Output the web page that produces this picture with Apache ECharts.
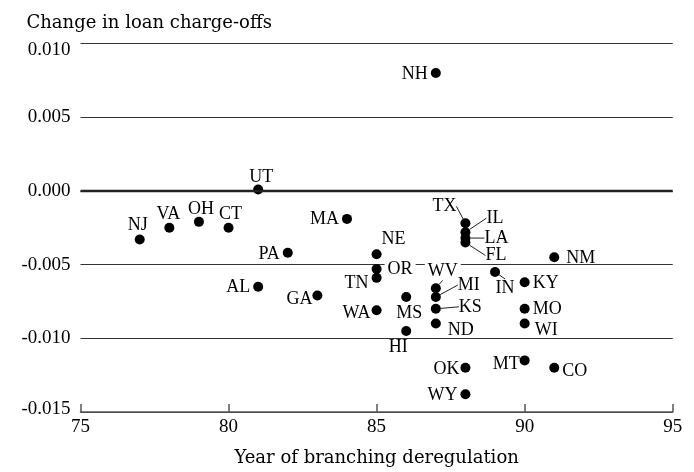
<!DOCTYPE html>
<html><head><meta charset="utf-8">
<script src="https://cdn.jsdelivr.net/npm/echarts@6/dist/echarts.min.js"></script>
<style>html,body{margin:0;padding:0;background:#fff}#c{width:694px;height:472px}</style>
</head><body><div id="c"></div>
<script>
const states = ['NJ','VA','OH','CT','UT','PA','MA','AL','GA','NH','NE','OR','TN','WA','MS','HI','WV','MI','KS','ND','TX','IL','LA','FL','IN','NM','KY','MO','WI','MT','CO','OK','WY'];
const years  = [77,78,79,80,81,82,84,81,83,87,85,85,85,85,86,86,87,87,87,87,88,88,88,88,89,91,90,90,90,90,91,88,88];
const values = [-0.0033,-0.0025,-0.0021,-0.0025,0.0001,-0.0042,-0.0019,-0.0065,-0.0071,0.0080,-0.0043,-0.0053,-0.0059,-0.0081,-0.0072,-0.0095,-0.0066,-0.0072,-0.0080,-0.0090,-0.0022,-0.0028,-0.0032,-0.0035,-0.0055,-0.0045,-0.0062,-0.0080,-0.0090,-0.0115,-0.0120,-0.0120,-0.0138];
const xTicks = [75, 80, 85, 90, 95];
const yTicks = [-0.015, -0.010, -0.005, 0.000, 0.005, 0.010];

// label placement (style only): [position, dx, dy, leaderLine, whiteBackground]
const place = {
  NJ:['top',-2,3,0,0], VA:['top',-1,4,0,0], OH:['top',2,4,0,0], CT:['top',2,4,0,0], UT:['top',3,5,0,0],
  PA:['left',0,1,0,0], MA:['left',0,0,0,0], AL:['left',0,1,0,0], GA:['left',3,4,0,0], NH:['left',0,1,0,0],
  NE:['top',17,2,0,0], OR:['right',0,0,0,1], TN:['left',0,5,0,0], WA:['left',2,3,0,0],
  MS:['bottom',3,-1,0,0], HI:['bottom',-8,-1,0,0],
  WV:['top',7,0,1,1], MI:['right',14,-12,1,0], KS:['right',15,-2,1,0], ND:['right',4,7,0,0],
  TX:['left',-1,-17,1,0], IL:['right',13,-14,1,0], LA:['right',11,0,1,0], FL:['right',12,13,1,0],
  IN:['bottom',10,-1,1,0], NM:['right',4,1,0,0], KY:['right',0,1,0,0], MO:['right',0,0,0,0],
  WI:['right',2,7,0,0], MT:['left',3,4,0,0], CO:['right',0,3,0,0], OK:['left',2,1,0,0], WY:['left',0,1,0,0]
};

const NUMFONT = '"Liberation Serif", serif';
const TITLEFONT = '"DejaVu Serif", serif';
const TXT = '#000';

const data = states.map((s, i) => {
  const p = place[s];
  const item = { name: s, value: [years[i], values[i]], label: { position: p[0] } };
  if (p[3]) item.labelLine = { show: true };
  if (p[4]) Object.assign(item.label, { backgroundColor: '#fff', padding: [0, 3] });
  return item;
});

const yMin = yTicks[0], yMax = yTicks[yTicks.length - 1];
const chart = echarts.init(document.getElementById('c'), null, { renderer: 'canvas' });
chart.setOption({
  animation: false,
  backgroundColor: '#fff',
  title: {
    text: 'Change in loan charge-offs', left: 21.5, top: 9,
    textStyle: { fontFamily: TITLEFONT, fontSize: 18, fontWeight: 'normal', color: TXT }
  },
  grid: { left: 80.5, right: 21.3, top: 43.5, bottom: 60, outerBoundsMode: 'none', containLabel: false },
  xAxis: {
    type: 'value', min: xTicks[0], max: xTicks[xTicks.length - 1], interval: 5,
    name: 'Year of branching deregulation', nameLocation: 'middle', nameGap: 37,
    nameTextStyle: { fontFamily: TITLEFONT, fontSize: 18, color: TXT },
    axisLine: { onZero: false, lineStyle: { color: '#555', width: 1.5 } },
    axisTick: { inside: true, length: 8, lineStyle: { color: '#555', width: 1.5 } },
    axisLabel: { margin: 6, fontFamily: NUMFONT, fontSize: 19, color: TXT },
    splitLine: { show: false }
  },
  yAxis: {
    type: 'value', min: yMin, max: yMax, interval: 0.005,
    axisLine: { show: false }, axisTick: { show: false },
    splitLine: { lineStyle: { color: '#333', width: 1.2 } },
    axisLabel: {
      margin: 10, fontFamily: NUMFONT, fontSize: 19, color: TXT,
      formatter: v => {
        const r = Math.round(v * 1000) / 1000;
        const s = r.toFixed(3);
        if (Math.abs(r - yMax) < 1e-9) return '{top|' + s + '}';
        if (Math.abs(r - yMin) < 1e-9) return '{bot|' + s + '}';
        return s;
      },
      rich: {
        top: { fontFamily: NUMFONT, fontSize: 19, color: TXT, padding: [14, 0, 0, 0] },
        bot: { fontFamily: NUMFONT, fontSize: 19, color: TXT, padding: [0, 0, 6, 0] }
      }
    }
  },
  series: [{
    type: 'scatter',
    symbol: 'circle', symbolSize: 10,
    itemStyle: { color: '#000', opacity: 1 },
    data: data,
    label: {
      show: true, formatter: '{b}', distance: 3,
      fontFamily: NUMFONT, fontSize: 18, color: TXT
    },
    labelLine: { show: false, lineStyle: { color: '#222', width: 1 } },
    labelLayout: params => {
      const p = place[states[params.dataIndex]];
      return { dx: p[1], dy: p[2] };
    },
    markLine: {
      silent: true, symbol: 'none', label: { show: false },
      lineStyle: { color: '#222', width: 2.4, type: 'solid' },
      data: [{ yAxis: 0 }]
    },
    z: 3
  }]
});
</script></body></html>
